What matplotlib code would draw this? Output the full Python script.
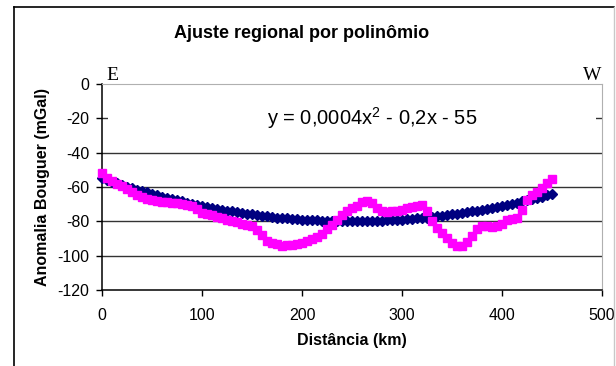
import numpy as np
import matplotlib.pyplot as plt
from matplotlib.patches import Rectangle
from matplotlib.lines import Line2D

plt.rcParams['font.family'] = ['Liberation Sans', 'DejaVu Sans']
plt.rcParams['axes.unicode_minus'] = False
plt.rcParams['mathtext.fontset'] = 'custom'
plt.rcParams['mathtext.rm'] = 'Liberation Sans'

# distancia (km), a cada 5 km
dist = list(range(0, 455, 5))

# anomalia observada (mGal)
observada = [
    -52.0, -54.8, -56.5, -58.0, -59.5, -61.3, -63.2, -64.8, -66.0, -67.0,
    -67.7, -68.2, -68.6, -68.9, -69.1, -69.5, -70.0, -70.6, -71.3, -73.0,
    -75.0, -75.9, -76.6, -77.3, -78.2, -79.1, -79.9, -80.6, -81.3, -82.0,
    -82.6, -85.0, -87.9, -91.2, -92.8, -93.4, -94.2, -94.0, -93.5, -93.0,
    -92.5, -91.5, -90.4, -89.0, -87.2, -84.6, -82.0, -79.0, -76.3, -74.0,
    -72.5, -70.8, -68.9, -68.0, -69.6, -72.0, -73.8, -74.4, -74.2, -73.8,
    -73.2, -72.5, -71.8, -71.1, -70.2, -74.0, -80.0, -84.0, -87.0, -89.9,
    -92.8, -94.5, -94.5, -92.0, -88.5, -84.5, -83.0, -82.8, -83.5, -83.0,
    -81.5, -79.2, -78.5, -77.9, -73.4, -67.5, -64.8, -63.0, -60.5, -57.5,
    -55.5,
]

# regional (ajuste polinomial)
regional = [
    -55.0, -56.0, -57.0, -57.9, -58.8, -59.8, -60.6, -61.5, -62.4, -63.2,
    -64.0, -64.8, -65.6, -66.3, -67.0, -67.8, -68.4, -69.1, -69.8, -70.4,
    -71.0, -71.6, -72.2, -72.7, -73.2, -73.8, -74.2, -74.7, -75.2, -75.6,
    -76.0, -76.4, -76.8, -77.1, -77.4, -77.8, -78.0, -78.3, -78.6, -78.8,
    -79.0, -79.2, -79.4, -79.5, -79.6, -79.8, -79.8, -79.9, -80.0, -80.0,
    -80.0, -80.0, -80.0, -79.9, -79.8, -79.8, -79.6, -79.5, -79.4, -79.2,
    -79.0, -78.8, -78.6, -78.3, -78.0, -77.8, -77.4, -77.1, -76.8, -76.4,
    -76.0, -75.6, -75.2, -74.7, -74.2, -73.8, -73.2, -72.7, -72.2, -71.6,
    -71.0, -70.4, -69.8, -69.1, -68.4, -67.8, -67.0, -66.3, -65.6, -64.8,
    -64.0,
]

xticks = [0, 100, 200, 300, 400, 500]
yticks = [0, -20, -40, -60, -80, -100, -120]

fig = plt.figure(figsize=(6.16, 3.66), dpi=100)
ax = fig.add_axes([102 / 616, 76 / 366, 500 / 616, 206 / 366])

ax.set_xlim(0, 500)
ax.set_ylim(-120, 0)
ax.set_xticks(xticks)
ax.set_yticks(yticks)
ax.tick_params(axis='both', direction='out', length=4, width=1, labelsize=11.5, colors='black')
ax.tick_params(axis='y', pad=5)
ax.tick_params(axis='x', pad=9)

for yv in yticks[1:-1]:
    ax.axhline(yv, color='#333333', lw=1, zorder=1)

# caixa branca da equacao (esconde a grade em -20)
ax.add_patch(Rectangle((6, -26), 488, 12, facecolor='white', edgecolor='none', zorder=2))

ax.plot(dist, regional, ls='none', marker='D', ms=4.6, color='#000080', zorder=3, clip_on=False)
ax.plot(dist, observada, ls='none', marker='s', ms=5.6, color='#FF00FF', zorder=4, clip_on=False)

ax.text(270, -20, 'y = 0,0004x$^{2}$ - 0,2x - 55', fontsize=14.5, va='center', ha='center', zorder=5)

for s in ['top', 'right']:
    ax.spines[s].set_color('#b0b0b0')
for s in ['left', 'bottom']:
    ax.spines[s].set_color('black')
    ax.spines[s].set_linewidth(1.1)

ax.set_xlabel('Distância (km)', fontsize=11.5, fontweight='bold')
ax.xaxis.set_label_coords(0.5, -0.21)
ax.set_ylabel('Anomalia Bouguer (mGal)', fontsize=11.5, fontweight='bold')
ax.yaxis.set_label_coords(-0.104, 0.5)

fig.text(302 / 616, 1 - 33 / 366, 'Ajuste regional por polinômio', fontsize=13,
         fontweight='bold', ha='center', va='center')
fig.text(112 / 616, 1 - 75 / 366, 'E', fontsize=14, family='Liberation Serif', ha='center', va='center')
fig.text(592 / 616, 1 - 75 / 366, 'W', fontsize=14, family='Liberation Serif', ha='center', va='center')

# moldura do grafico
fig.add_artist(Line2D([14 / 616, 14 / 616], [0, 1 - 7 / 366], color='black', lw=1.2))
fig.add_artist(Line2D([14 / 616, 614 / 616], [1 - 7 / 366, 1 - 7 / 366], color='black', lw=1.2))
fig.add_artist(Line2D([614 / 616, 614 / 616], [0, 1 - 7 / 366], color='#c8c8c8', lw=1))

fig.savefig('out.png', dpi=100)
